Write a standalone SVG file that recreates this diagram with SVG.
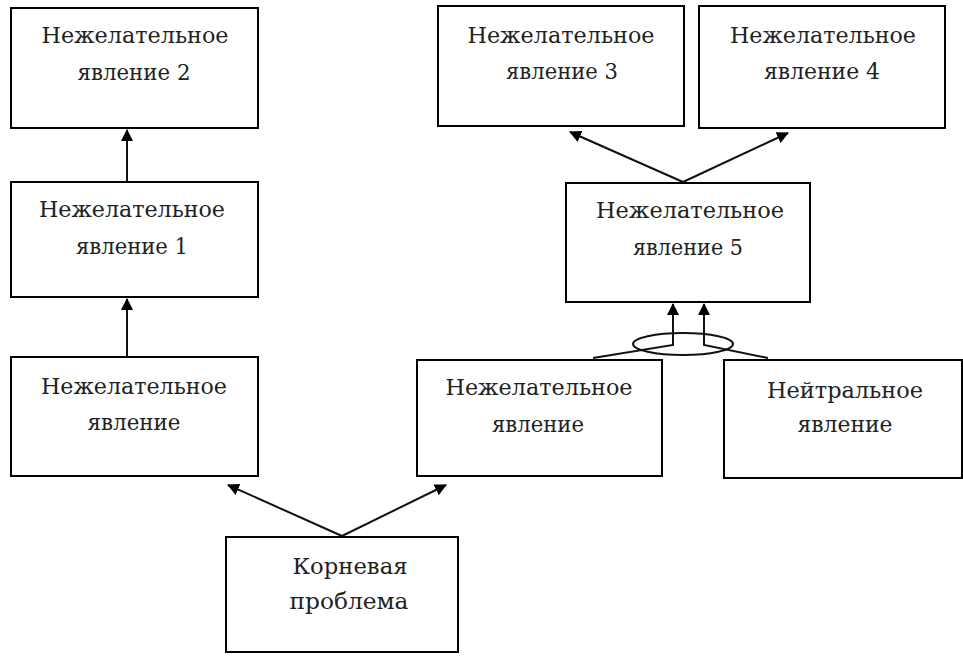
<svg xmlns="http://www.w3.org/2000/svg" width="963" height="657" viewBox="0 0 963 657">
<defs>
<marker id="ah" markerWidth="12" markerHeight="12" refX="11" refY="6" orient="auto" markerUnits="userSpaceOnUse" viewBox="0 0 12 12">
<path d="M0,0 L12,6 L0,12 z" fill="#000"/>
</marker>
<style>
.box{fill:#fff;stroke:#000;stroke-width:2}
.t{font-family:"DejaVu Serif","Liberation Serif",serif;font-size:22px;fill:#222;text-anchor:middle}
.c{fill:none;stroke:#111;stroke-width:2}
</style>
</defs>
<rect width="963" height="657" fill="#fff"/>
<g id="n2"><rect class="box" x="11" y="8" width="247" height="120"/>
<text class="t" x="135" y="43" textLength="187" lengthAdjust="spacingAndGlyphs">Нежелательное</text>
<text class="t" x="134" y="80" textLength="113" lengthAdjust="spacingAndGlyphs">явление 2</text></g>
<g id="n1"><rect class="box" x="11" y="182" width="247" height="115"/>
<text class="t" x="132" y="217" textLength="186" lengthAdjust="spacingAndGlyphs">Нежелательное</text>
<text class="t" x="132" y="254" textLength="112" lengthAdjust="spacingAndGlyphs">явление 1</text></g>
<g id="n0"><rect class="box" x="11" y="357" width="247" height="119"/>
<text class="t" x="134" y="394" textLength="186" lengthAdjust="spacingAndGlyphs">Нежелательное</text>
<text class="t" x="134" y="430" textLength="93" lengthAdjust="spacingAndGlyphs">явление</text></g>
<g id="n3"><rect class="box" x="438" y="6" width="246" height="120"/>
<text class="t" x="561" y="43" textLength="187" lengthAdjust="spacingAndGlyphs">Нежелательное</text>
<text class="t" x="562" y="79" textLength="112" lengthAdjust="spacingAndGlyphs">явление 3</text></g>
<g id="n4"><rect class="box" x="699" y="6" width="246" height="122"/>
<text class="t" x="823" y="43" textLength="186" lengthAdjust="spacingAndGlyphs">Нежелательное</text>
<text class="t" x="822" y="79" textLength="116" lengthAdjust="spacingAndGlyphs">явление 4</text></g>
<g id="n5"><rect class="box" x="566" y="183" width="244" height="119"/>
<text class="t" x="690" y="218" textLength="188" lengthAdjust="spacingAndGlyphs">Нежелательное</text>
<text class="t" x="688" y="255" textLength="110" lengthAdjust="spacingAndGlyphs">явление 5</text></g>
<g id="nm"><rect class="box" x="417" y="360" width="245" height="116"/>
<text class="t" x="539" y="395" textLength="187" lengthAdjust="spacingAndGlyphs">Нежелательное</text>
<text class="t" x="538" y="432" textLength="92" lengthAdjust="spacingAndGlyphs">явление</text></g>
<g id="nn"><rect class="box" x="724" y="360" width="238" height="118"/>
<text class="t" x="845" y="398" textLength="156" lengthAdjust="spacingAndGlyphs">Нейтральное</text>
<text class="t" x="845" y="432" textLength="95" lengthAdjust="spacingAndGlyphs">явление</text></g>
<g id="root"><rect class="box" x="226" y="537" width="232" height="115"/>
<text class="t" x="350" y="574" textLength="115" lengthAdjust="spacingAndGlyphs">Корневая</text>
<text class="t" x="349" y="609" textLength="119" lengthAdjust="spacingAndGlyphs">проблема</text></g>
<g id="connectors">
<line class="c" x1="127" y1="182" x2="127" y2="130" marker-end="url(#ah)"/>
<line class="c" x1="127" y1="357" x2="127" y2="299" marker-end="url(#ah)"/>
<line class="c" x1="342" y1="536" x2="228" y2="485" marker-end="url(#ah)"/>
<line class="c" x1="342" y1="536" x2="446" y2="485" marker-end="url(#ah)"/>
<line class="c" x1="683" y1="182" x2="570" y2="132" marker-end="url(#ah)"/>
<line class="c" x1="683" y1="182" x2="788" y2="133" marker-end="url(#ah)"/>
<ellipse cx="683" cy="344" rx="50" ry="11" fill="none" stroke="#111" stroke-width="2"/>
<polyline class="c" points="593,358 673,345 673,304" marker-end="url(#ah)"/>
<polyline class="c" points="768,358 704,345 704,304" marker-end="url(#ah)"/>
</g>
</svg>
